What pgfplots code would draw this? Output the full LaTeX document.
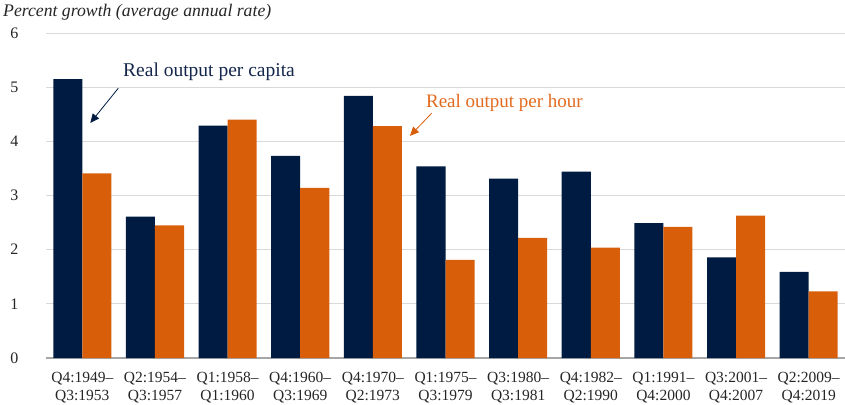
\documentclass[border=0pt]{standalone}
\usepackage{pgfplots}
\pgfplotsset{compat=1.18}
\usepackage{fontspec}
\setmainfont{Liberation Serif}
\usetikzlibrary{arrows.meta}
\definecolor{navy}{RGB}{0,27,65}
\definecolor{burnt}{RGB}{217,94,10}
\definecolor{navytext}{RGB}{20,38,75}
\definecolor{burnttext}{RGB}{226,106,30}
\definecolor{gridgray}{RGB}{217,217,217}
\definecolor{basegray}{RGB}{166,166,166}
\definecolor{ticktext}{RGB}{38,38,38}

\begin{document}
\begin{tikzpicture}
\begin{axis}[
  scale only axis, width=799pt, height=325pt,
  ybar=0pt, bar width=0.4,
  xmin=-0.5, xmax=10.5, ymin=0, ymax=6,
  xtick={0,...,10},
  xticklabels={{Q4:1949--\\Q3:1953},{Q2:1954--\\Q3:1957},{Q1:1958--\\Q1:1960},
    {Q4:1960--\\Q3:1969},{Q4:1970--\\Q2:1973},{Q1:1975--\\Q3:1979},
    {Q3:1980--\\Q3:1981},{Q4:1982--\\Q2:1990},{Q1:1991--\\Q4:2000},
    {Q3:2001--\\Q4:2007},{Q2:2009--\\Q4:2019}},
  ytick={1,...,6},
  extra y ticks={0},
  extra y tick style={grid style={basegray, line width=1.2pt}},
  ymajorgrids, grid style={gridgray, line width=1pt},
  axis line style={draw=none},
  major tick length=0pt,
  /pgf/number format/assume math mode=true,
  yticklabel style={font=\fontsize{16}{19}\selectfont, text=ticktext, xshift=-24pt},
  xticklabel style={font=\fontsize{15.5}{18}\selectfont, text=ticktext, align=center, yshift=-11pt},
]
\addplot[fill=navy, draw=none] coordinates {
  (0,5.15) (1,2.61) (2,4.29) (3,3.73) (4,4.84) (5,3.54)
  (6,3.31) (7,3.44) (8,2.49) (9,1.86) (10,1.59)};
\addplot[fill=burnt, draw=none] coordinates {
  (0,3.41) (1,2.45) (2,4.40) (3,3.14) (4,4.28) (5,1.81)
  (6,2.22) (7,2.04) (8,2.42) (9,2.63) (10,1.23)};

\node[anchor=west, inner sep=0pt, text=navytext, font=\fontsize{19.5}{22}\selectfont]
  at (axis cs:0.56,5.28) {Real output per capita};
\draw[navy, line width=0.8pt, -{Triangle[length=9pt,width=8pt]}]
  (axis cs:0.495,4.98) -- (axis cs:0.11,4.34);
\node[anchor=west, inner sep=0pt, text=burnttext, font=\fontsize{19}{22}\selectfont]
  at (axis cs:4.73,4.71) {Real output per hour};
\draw[burnt, line width=0.8pt, -{Triangle[length=9pt,width=8pt]}]
  (axis cs:4.81,4.52) -- (axis cs:4.51,4.10);
\end{axis}
\node[anchor=base west, inner sep=0pt, font=\itshape\fontsize{17.7}{20}\selectfont, text=ticktext]
  at (-43pt,341pt) {Percent growth (average annual rate)};
\pgfresetboundingbox
\path (-46pt,-46pt) rectangle (799pt,358pt);
\end{tikzpicture}
\end{document}
